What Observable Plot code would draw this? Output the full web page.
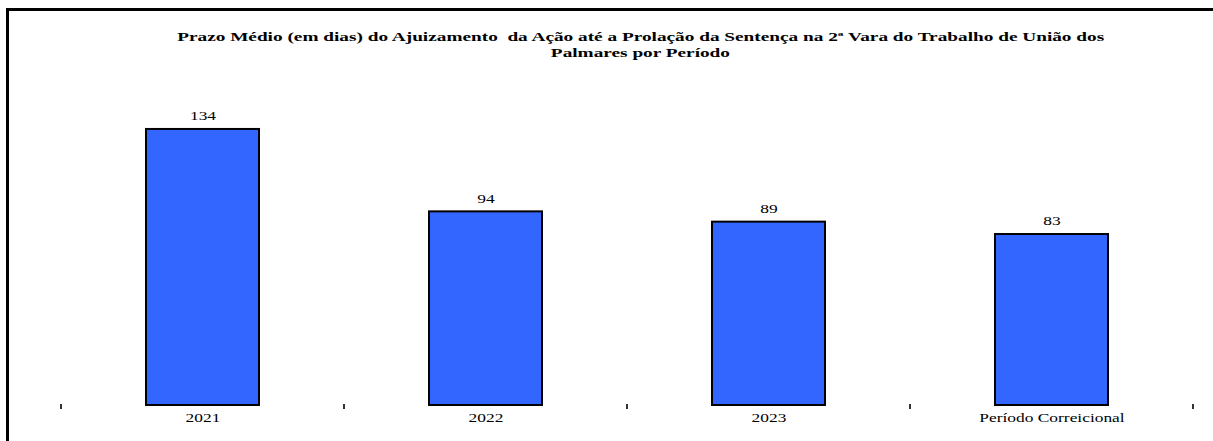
<!DOCTYPE html>
<html>
<head>
<meta charset="utf-8">
<script src="https://cdn.jsdelivr.net/npm/d3@7"></script>
<script src="https://cdn.jsdelivr.net/npm/@observablehq/plot@0.6"></script>
<style>
  html, body { margin: 0; padding: 0; background: #fff; }
  #wrap { position: relative; width: 1213px; height: 441px; overflow: hidden; }
  #frame { position: absolute; left: 6px; top: 8px; width: 1300px; height: 500px;
           border-left: 3px solid #000; border-top: 3px solid #000; box-sizing: border-box; }
  #title { position: absolute; left: 34px; width: 1213px; top: 29px; text-align: center;
           font-family: "Liberation Serif", "Times New Roman", serif; font-weight: bold;
           font-size: 13px; line-height: 16px; color: #000; }
  #title span { display: inline-block; transform-origin: center; white-space: nowrap; }
  #chart { position: absolute; left: 0; top: 0; }
</style>
</head>
<body>
<div id="wrap">
  <div id="chart"></div>
  <div id="frame"></div>
  <div id="title"><span id="t1">Prazo Médio (em dias) do Ajuizamento&nbsp; da Ação até a Prolação da Sentença na 2ª Vara do Trabalho de União dos</span><br><span id="t2">Palmares por Período</span></div>
</div>
<script>
const categories = ["2021", "2022", "2023", "Período Correicional"];
const values = [134, 94, 89, 83];

const data = categories.map((c, i) => ({ periodo: c, dias: values[i] }));

// separator ticks between bands, positioned from the band scale
function separators(index, scales, vals, dims) {
  const x = scales.scales.x;
  const step = x.step;
  const y0 = dims.height - dims.marginBottom;
  const g = d3.create("svg:g");
  const edges = categories.map(c => scales.x(c) - (step - x.bandwidth) / 2);
  edges.push(scales.x(categories[categories.length - 1]) + x.bandwidth + (step - x.bandwidth) / 2);
  g.selectAll("line").data(edges).join("line")
    .attr("x1", d => d).attr("x2", d => d)
    .attr("y1", y0 - 1).attr("y2", y0 + 4)
    .attr("stroke", "#333").attr("stroke-width", 2);
  return g.node();
}

const chart = Plot.plot({
  width: 1213,
  height: 441,
  marginLeft: 60,
  marginRight: 19,
  marginTop: 96,
  marginBottom: 36,
  style: { fontFamily: "'Liberation Serif', 'Times New Roman', serif", fontSize: "12px", color: "#000", background: "transparent" },
  x: { domain: categories, padding: 0.6, paddingOuter: 0.3, label: null, axis: null },
  y: { domain: [0, 150], axis: null },
  marks: [
    Plot.barY(data, { x: "periodo", y: "dias", fill: "#3366FF", stroke: "#000", strokeWidth: 2 }),
    Plot.text(data, { x: "periodo", y: "dias", text: d => String(d.dias), dy: -13, fontSize: 12, fill: "#000" }),
    Plot.axisX({ tickSize: 0, tickPadding: 8, fontSize: 12, label: null }),
    separators
  ]
});
document.getElementById("chart").appendChild(chart);

// horizontally stretch the texts (the reference's type is widened)
d3.select(chart).selectAll("text").each(function() {
  const t = this.getAttribute("transform") || "";
  this.setAttribute("transform", (t + " scale(1.45,1)").trim());
});
// fit title lines to reference widths
const t1 = document.getElementById("t1");
const s = 927 / t1.getBoundingClientRect().width;
t1.style.transform = `scaleX(${s})`;
document.getElementById("t2").style.transform = `scaleX(${s})`;
</script>
</body>
</html>
